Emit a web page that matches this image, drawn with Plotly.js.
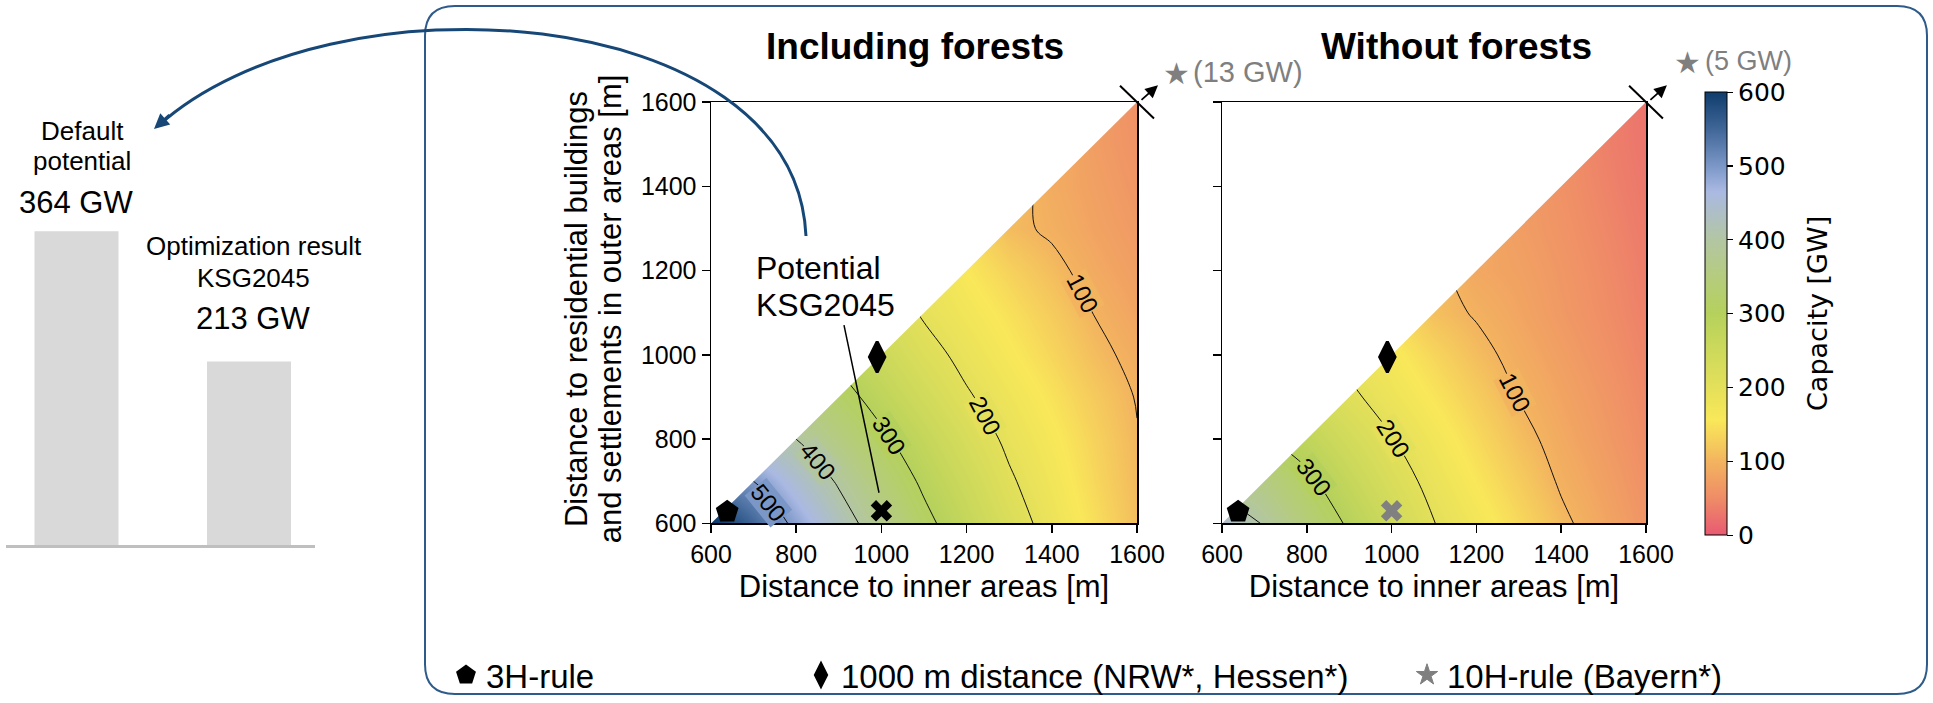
<!DOCTYPE html>
<html><head><meta charset="utf-8">
<script src="https://cdn.plot.ly/plotly-3.0.1.min.js"></script>
<style>html,body{margin:0;padding:0;background:#fff}#chart{width:1933px;height:703px}</style>
</head><body><div id="chart"></div>
<script>
// ---------------- data ----------------
const gridX = [600, 700, 800, 900, 1000, 1100, 1200, 1300, 1400, 1500, 1600];
const gridY = [600, 700, 800, 900, 1000, 1100, 1200, 1300, 1400, 1500, 1600];
const N = null;
// capacity [GW], rows = gridY, cols = gridX (only y <= x is defined)
const capIncludingForests = [
  [610, 549, 488, 427, 369, 314, 267, 223, 182, 146, 109],
  [N, 500, 447, 394, 341, 291, 249, 206, 172, 138, 105],
  [N, N, 400, 355, 310, 269, 228, 191, 162, 132, 102],
  [N, N, N, 320, 280, 242, 205, 177, 150, 123, 98],
  [N, N, N, N, 254, 217, 187, 161, 136, 110, 90],
  [N, N, N, N, N, 195, 171, 148, 124, 99, 80],
  [N, N, N, N, N, N, 156, 132, 109, 88, 73],
  [N, N, N, N, N, N, N, 108, 95, 80, 67],
  [N, N, N, N, N, N, N, N, 90, 76, 62],
  [N, N, N, N, N, N, N, N, N, 72, 58],
  [N, N, N, N, N, N, N, N, N, N, 55]
];
const capWithoutForests = [
  [450, 395, 343, 293, 247, 201, 170, 139, 107, 83, 60],
  [N, 359, 311, 267, 223, 186, 155, 125, 96, 76, 55],
  [N, N, 277, 239, 202, 171, 141, 111, 88, 69, 50],
  [N, N, N, 209, 180, 153, 126, 99, 81, 64, 46],
  [N, N, N, N, 163, 136, 110, 90, 74, 58, 42],
  [N, N, N, N, N, 112, 97, 82, 67, 53, 38],
  [N, N, N, N, N, N, 85, 77, 64, 50, 35],
  [N, N, N, N, N, N, N, 72, 60, 46, 32],
  [N, N, N, N, N, N, N, N, 57, 42, 29],
  [N, N, N, N, N, N, N, N, N, 39, 27],
  [N, N, N, N, N, N, N, N, N, N, 25]
];
const contourLevelsLeft = {start: 100, end: 500, size: 100};
const contourLevelsRight = {start: 100, end: 400, size: 100};
// contour label values shown in each panel
const labelLevelsLeft = [500, 400, 300, 200, 100];
const labelLevelsRight = [300, 200, 100];
const rule3H_x = [638], rule3H_y = [628];
const dist1000_x = [990], dist1000_y = [995];
const ksg2045_x = [1000], ksg2045_y = [630];
const rule10H_GW = [13, 5];
const barLabels = ['Default<br>potential', 'Optimization result<br>KSG2045'];
const barCategories = ['Default potential', 'Optimization result KSG2045'];
const barValues = [364, 213];
const axisTicks = [600, 800, 1000, 1200, 1400, 1600];
const axisRange = [600, 1600];
const cbTicks = [0, 100, 200, 300, 400, 500, 600];

// ---------------- helpers / styles ----------------
const W = 1933, H = 703;
const px = v => v / W;
const py = v => 1 - v / H;
const FONT = 'Liberation Sans, Arial, Helvetica, sans-serif';
const CMAX = 600;

const colorscale = [
  [0, '#e85a72'], [0.083, '#ef8c67'], [0.167, '#f3b45f'], [0.2, '#f5c85d'],
  [0.26, '#f9e859'], [0.333, '#e4e05a'], [0.417, '#cdd95b'], [0.5, '#b5d15c'],
  [0.583, '#b5cc7e'], [0.667, '#b3c6a3'], [0.775, '#aab9e2'], [0.833, '#7b97c7'],
  [0.917, '#3f6697'], [1, '#0e3c6c']
];
function hexToRgb(h) { return [1, 3, 5].map(i => parseInt(h.substr(i, 2), 16)); }
function colorAt(v) {
  const t = Math.max(0, Math.min(1, v / CMAX));
  for (let i = 1; i < colorscale.length; i++) {
    if (t <= colorscale[i][0]) {
      const [t0, c0] = colorscale[i - 1], [t1, c1] = colorscale[i];
      const f = (t - t0) / (t1 - t0), a = hexToRgb(c0), b = hexToRgb(c1);
      return 'rgb(' + a.map((x, k) => Math.round(x + (b[k] - x) * f)).join(',') + ')';
    }
  }
  return colorscale[colorscale.length - 1][1];
}

function contourTrace(z, levels, xa, ya) {
  return {
    type: 'contour', x: gridX, y: gridY, z: z, xaxis: xa, yaxis: ya,
    coloraxis: 'coloraxis', autocontour: false,
    contours: Object.assign({coloring: 'heatmap', showlabels: false}, levels),
    line: {color: '#111', width: 1, smoothing: 1},
    hoverinfo: 'skip', showlegend: false
  };
}
function maskTrace(xa, ya) {
  const a = axisRange[0], b = axisRange[1];
  return {type: 'scatter', mode: 'lines', x: [a, a, b, a], y: [a, b, b, a],
    fill: 'toself', fillcolor: '#ffffff', line: {width: 0, color: 'rgba(0,0,0,0)'},
    xaxis: xa, yaxis: ya, hoverinfo: 'skip', showlegend: false};
}
function pentagon(xa, ya, show) {
  return {type: 'scatter', mode: 'markers', x: rule3H_x, y: rule3H_y, xaxis: xa, yaxis: ya,
    name: '3H-rule', legend: 'legend', showlegend: show, hoverinfo: 'skip',
    marker: {symbol: 'pentagon', size: 19, color: '#000', line: {color: '#000', width: 4}}};
}
function diamond(xa, ya, show) {
  return {type: 'scatter', mode: 'markers', x: dist1000_x, y: dist1000_y, xaxis: xa, yaxis: ya,
    name: '1000 m distance (NRW*, Hessen*)', legend: 'legend2', showlegend: show, hoverinfo: 'skip',
    marker: {symbol: 'diamond-tall', size: 22, color: '#000', line: {color: '#000', width: 3}}};
}
function cross(xa, ya, color) {
  return {type: 'scatter', mode: 'markers', x: ksg2045_x, y: ksg2045_y, xaxis: xa, yaxis: ya,
    showlegend: false, hoverinfo: 'skip',
    marker: {symbol: 'x', size: 19, color: color, line: {width: 0}}};
}
// legend entry for the 10H rule (its value lies outside the plotted range)
const starLegend = {type: 'scatter', mode: 'markers', x: [null], y: [null], xaxis: 'x', yaxis: 'y',
  name: '10H-rule (Bayern*)', legend: 'legend3', showlegend: true, hoverinfo: 'skip',
  marker: {symbol: 'star', size: 19, color: '#7f7f7f', line: {color: '#7f7f7f', width: 1}}};

const data = [
  contourTrace(capIncludingForests, contourLevelsLeft, 'x', 'y'),
  contourTrace(capWithoutForests, contourLevelsRight, 'x2', 'y2'),
  maskTrace('x', 'y'), maskTrace('x2', 'y2'),
  pentagon('x', 'y', true), pentagon('x2', 'y2', false),
  diamond('x', 'y', true), diamond('x2', 'y2', false),
  cross('x', 'y', '#000'), cross('x2', 'y2', '#808080'),
  starLegend,
  {type: 'bar', x: barCategories, y: barValues, xaxis: 'x3', yaxis: 'y3', width: 0.487,
   marker: {color: '#d9d9d9'}, hoverinfo: 'skip', showlegend: false}
];

const axBase = {
  range: axisRange, tickvals: axisTicks, ticks: 'outside', ticklen: 8, tickwidth: 1.5,
  tickcolor: '#000', showline: true, mirror: true, linecolor: '#000', linewidth: 1.5,
  showgrid: false, zeroline: false, fixedrange: true,
  tickfont: {family: FONT, size: 25, color: '#000'}
};
const xTitle = {text: 'Distance to inner areas [m]', font: {family: FONT, size: 31, color: '#000'}, standoff: 8};
const yDom = [py(528), py(103)];

const blue = '#164777';
const R = 30, BL = 425, BR = 1927, BT = 6, BB = 700;
const boxPath = ['M', px(BL + R), py(BT), 'L', px(BR - R), py(BT),
  'Q', px(BR), py(BT), px(BR), py(BT + R), 'L', px(BR), py(BB - R),
  'Q', px(BR), py(BB), px(BR - R), py(BB), 'L', px(BL + R), py(BB),
  'Q', px(BL), py(BB), px(BL), py(BB - R), 'L', px(BL), py(BT + R),
  'Q', px(BL), py(BT), px(BL + R), py(BT), 'Z'].join(' ');
const curvePath = ['M', px(806), py(238), 'C', px(795), py(0), px(330), py(-30), px(158), py(127)].join(' ');

function cornerTick(xa, ya) {
  return {type: 'line', xref: xa + ' domain', yref: ya + ' domain',
    x0: 1 - 17 / 426, y0: 1 + 16.5 / 425, x1: 1 + 17 / 426, y1: 1 - 16.5 / 425,
    line: {color: '#000', width: 2}};
}
function cornerArrow(xa, ya) {
  return {xref: xa + ' domain', yref: ya + ' domain', x: 1 + 21 / 426, y: 1 + 17 / 425,
    ax: -18, ay: 16, axref: 'pixel', ayref: 'pixel', text: '', showarrow: true,
    arrowhead: 2, arrowsize: 1.4, arrowwidth: 1.8, arrowcolor: '#000'};
}
function txt(text, x, y, size, extra) {
  return Object.assign({xref: 'paper', yref: 'paper', x: px(x), y: py(y), text: text,
    showarrow: false, xanchor: 'center', yanchor: 'middle',
    font: {family: FONT, size: size, color: '#000'}}, extra || {});
}
// contour label placement (data coords of label centre, rotation in degrees)
const labelPlaceLeft = [[735, 651, 51], [852, 748, 50], [1018, 809, 57], [1243, 856, 62], [1472, 1145, 62]];
const labelPlaceRight = [[818, 710, 53], [1004, 801, 58], [1291, 911, 63]];
function contourLabels(levels, places, xa, ya) {
  return levels.map((lv, i) => ({
    xref: xa, yref: ya, x: places[i][0], y: places[i][1], text: String(lv),
    textangle: places[i][2], showarrow: false, xanchor: 'center', yanchor: 'middle',
    bgcolor: colorAt(lv), borderpad: 0,
    font: {family: FONT, size: 24, color: '#000'}
  }));
}
const gray = '#7f7f7f';
function starNote(xStar, xText, y, gw, size) {
  return [
    txt('★', xStar, y, 30, {font: {family: 'DejaVu Sans', size: 30, color: gray}}),
    txt('(' + gw + ' GW)', xText, y - 1, size, {xanchor: 'left', font: {family: FONT, size: size, color: gray}})
  ];
}

const legendBase = {orientation: 'h', yanchor: 'middle', y: py(681), xanchor: 'left',
  font: {family: FONT, size: 33, color: '#000'}, bgcolor: 'rgba(0,0,0,0)', borderwidth: 0,
  itemwidth: 30, valign: 'middle'};

const barLines = barLabels.map(s => s.split('<br>'));

const layout = {
  width: W, height: H, margin: {l: 0, r: 0, t: 0, b: 0},
  paper_bgcolor: '#fff', plot_bgcolor: '#fff', font: {family: FONT, color: '#000'},
  showlegend: true,
  legend: Object.assign({}, legendBase, {x: px(446)}),
  legend2: Object.assign({}, legendBase, {x: px(801)}),
  legend3: Object.assign({}, legendBase, {x: px(1407)}),
  xaxis: Object.assign({}, axBase, {domain: [px(711), px(1137)], anchor: 'y', title: xTitle}),
  yaxis: Object.assign({}, axBase, {domain: yDom, anchor: 'x'}),
  xaxis2: Object.assign({}, axBase, {domain: [px(1222), px(1646)], anchor: 'y2', title: xTitle}),
  yaxis2: Object.assign({}, axBase, {domain: yDom, anchor: 'x2', showticklabels: false}),
  xaxis3: {domain: [px(6), px(315)], anchor: 'y3', type: 'category', range: [-0.4087, 1.3826],
    showticklabels: false, ticks: '', showline: true, linecolor: '#bfbfbf', linewidth: 3,
    showgrid: false, zeroline: false, fixedrange: true},
  yaxis3: {domain: [py(550), 1], anchor: 'x3', range: [0, 632], visible: false, fixedrange: true},
  coloraxis: {
    colorscale: colorscale, cmin: 0, cmax: CMAX,
    colorbar: {x: px(1705), xanchor: 'left', xpad: 0, y: py(316.4), yanchor: 'middle', ypad: 0,
      len: 447 / H, lenmode: 'fraction', thickness: 22, thicknessmode: 'pixels',
      outlinewidth: 1, outlinecolor: '#000', ticks: 'outside', ticklen: 6, tickwidth: 1.2,
      tickcolor: '#000', tickvals: cbTicks,
      tickfont: {family: 'DejaVu Sans', size: 25, color: '#000'},
      title: {text: ''}}
  },
  shapes: [
    {type: 'path', xref: 'paper', yref: 'paper', path: boxPath, line: {color: '#2e5b8a', width: 2}, fillcolor: 'rgba(0,0,0,0)'},
    {type: 'path', xref: 'paper', yref: 'paper', path: curvePath, line: {color: blue, width: 3}, fillcolor: 'rgba(0,0,0,0)'},
    {type: 'line', xref: 'paper', yref: 'paper', x0: px(844), y0: py(328), x1: px(879), y1: py(497), line: {color: '#000', width: 1.5}},
    cornerTick('x', 'y'), cornerTick('x2', 'y2')
  ],
  annotations: [
    {xref: 'paper', yref: 'paper', x: px(154), y: py(130), ax: 17, ay: -15, text: '', showarrow: true,
     arrowhead: 2, arrowsize: 1, arrowwidth: 3, arrowcolor: blue},
    cornerArrow('x', 'y'), cornerArrow('x2', 'y2'),
    txt('<b>Including forests</b>', 914.5, 47, 37),
    txt('<b>Without forests</b>', 1456.7, 47, 37),
    txt('Distance to residential buildings', 576.7, 312, 31, {textangle: -90}),
    txt('and settlements in outer areas [m]', 610, 312, 31, {textangle: -90}),
    txt('Capacity [GW]', 1818, 316.7, 27, {textangle: -90, font: {family: 'DejaVu Sans', size: 27, color: '#000'}}),
    txt('Potential', 754, 270, 32, {xanchor: 'left'}),
    txt('KSG2045', 754, 308, 32, {xanchor: 'left'}),
    txt(barLines[0][0], 82, 132.5, 26),
    txt(barLines[0][1], 82, 162, 26),
    txt(barValues[0] + ' GW', 75.8, 204, 31),
    txt(barLines[1][0], 254, 248.5, 26),
    txt(barLines[1][1], 253.3, 280, 26),
    txt(barValues[1] + ' GW', 253, 321, 31)
  ].concat(
    starNote(1176, 1191, 74, rule10H_GW[0], 29),
    starNote(1687, 1703, 63, rule10H_GW[1], 27),
    contourLabels(labelLevelsLeft, labelPlaceLeft, 'x', 'y'),
    contourLabels(labelLevelsRight, labelPlaceRight, 'x2', 'y2')
  )
};

Plotly.newPlot('chart', data, layout, {displayModeBar: false, staticPlot: true});
</script>
</body></html>
